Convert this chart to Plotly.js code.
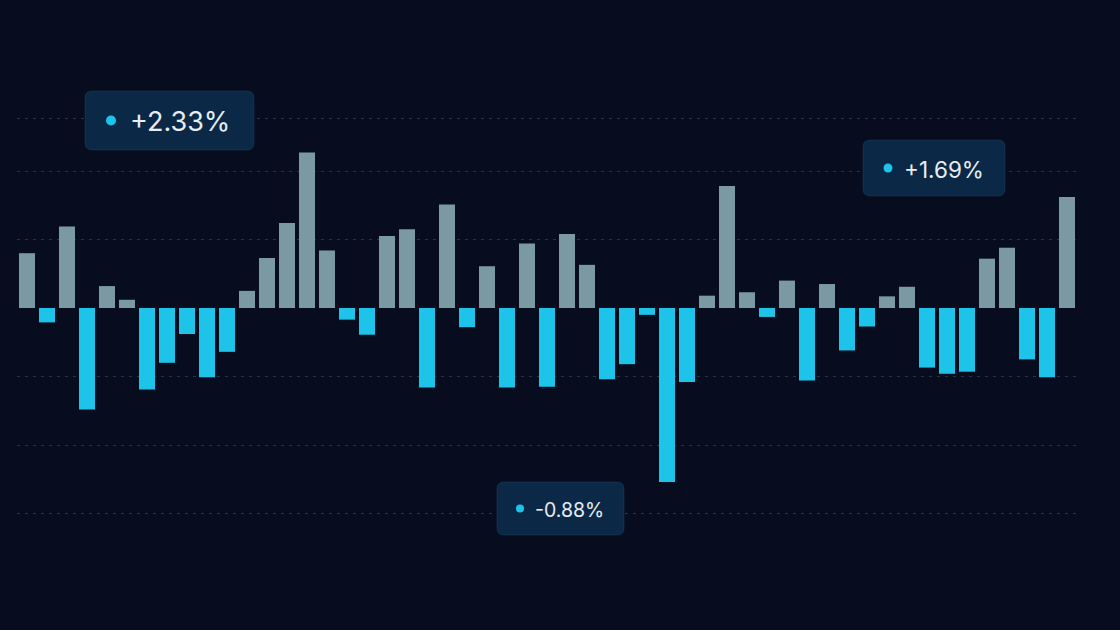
<!DOCTYPE html>
<html>
<head>
<meta charset="utf-8">
<script src="https://cdn.plot.ly/plotly-3.0.1.min.js"></script>
<style>
  html, body { margin: 0; padding: 0; background: #070c1e; }
  #chart { width: 1120px; height: 630px; }
</style>
</head>
<body>
<div id="chart"></div>
<script>
// Daily change (%) for each period, left to right
const periods = [];
for (let i = 1; i <= 53; i++) periods.push('P' + i);

const changes = [
  0.80, -0.21, 1.19, -1.48, 0.32, 0.12, -1.19, -0.80, -0.38, -1.01,
  -0.64, 0.25, 0.73, 1.24, 2.27, 0.84, -0.17, -0.39, 1.05, 1.15,
  -1.16, 1.51, -0.28, 0.61, -1.16, 0.94, -1.15, 1.08, 0.63, -1.04,
  -0.82, -0.10, -2.54, -1.08, 0.18, 1.78, 0.23, -0.13, 0.40, -1.06,
  0.35, -0.62, -0.27, 0.17, 0.31, -0.87, -0.96, -0.93, 0.72, 0.88,
  -0.75, -1.01, 1.62
];

// Callout labels
const calloutLabels = ['+2.33%', '+1.69%', '-0.88%'];

// dashed guide levels
const gridLevels = [-3, -2, -1, 1, 2, 2.77];

const upColor = '#7a99a3';
const downColor = '#1ec3ea';

const barColors = changes.map(v => v >= 0 ? upColor : downColor);

// plot area in pixels (used to place the callout boxes)
const plotLeft = 17, plotRight = 1077, plotTop = 115, plotBottom = 516;
function px(x) { return (x - plotLeft) / (plotRight - plotLeft); }
function py(y) { return (plotBottom - y) / (plotBottom - plotTop); }

// rounded box from pixel corners
function roundBox(x0, y0, x1, y1, r) {
  const p = (x, y) => px(x) + ',' + py(y);
  return 'M' + p(x0 + r, y0) + ' L' + p(x1 - r, y0) + ' Q' + p(x1, y0) + ' ' + p(x1, y0 + r) +
    ' L' + p(x1, y1 - r) + ' Q' + p(x1, y1) + ' ' + p(x1 - r, y1) +
    ' L' + p(x0 + r, y1) + ' Q' + p(x0, y1) + ' ' + p(x0, y1 - r) +
    ' L' + p(x0, y0 + r) + ' Q' + p(x0, y0) + ' ' + p(x0 + r, y0) + ' Z';
}

// box: [x0, y0, x1, y1, dotX, textX, fontSize, dotR]
const boxes = [
  [85, 91, 254, 150, 111, 128, 27, 5],
  [863, 140, 1005, 196, 888, 902, 22.5, 4.5],
  [497, 482, 624, 535, 520, 533, 19.5, 4]
];

let shapes = [];
let annotations = [];
boxes.forEach((b, i) => {
  const cy = (b[1] + b[3]) / 2;
  shapes.push({
    type: 'path', xref: 'paper', yref: 'paper',
    path: roundBox(b[0], b[1], b[2], b[3], 7),
    fillcolor: '#0b2947', line: {color: 'rgba(40,80,120,0.35)', width: 1},
    layer: 'above'
  });
  shapes.push({
    type: 'circle', xref: 'paper', yref: 'paper',
    x0: px(b[4] - b[7]), x1: px(b[4] + b[7]),
    y0: py(cy + b[7]), y1: py(cy - b[7]),
    fillcolor: downColor, line: {width: 0}, layer: 'above'
  });
  annotations.push({
    xref: 'paper', yref: 'paper', x: px(b[5]), y: py(cy + 1),
    xanchor: 'left', yanchor: 'middle', showarrow: false,
    text: calloutLabels[i],
    font: {family: 'Inter, "Noto Sans", sans-serif', size: b[6], color: '#e6edf3'}
  });
});

// 68.5 px per percent, a little padding so the outer guides stay visible
const pxPerUnit = 68.5;
const zeroPx = 308;
const yMax = (zeroPx - plotTop) / pxPerUnit;
const yMin = -(plotBottom - zeroPx) / pxPerUnit;

const data = [{
  type: 'bar',
  x: periods,
  y: changes,
  marker: {color: barColors, line: {width: 0}},
  hoverinfo: 'none'
}];

const layout = {
  width: 1120,
  height: 630,
  paper_bgcolor: '#070c1e',
  plot_bgcolor: '#070c1e',
  margin: {l: plotLeft, r: 1120 - plotRight, t: plotTop, b: 630 - plotBottom, pad: 0},
  bargap: 0.2,
  showlegend: false,
  xaxis: {
    showgrid: false, zeroline: false, showticklabels: false, ticks: '',
    fixedrange: true
  },
  yaxis: {
    range: [yMin, yMax],
    tickvals: gridLevels,
    showticklabels: false, ticks: '',
    showgrid: true, gridcolor: 'rgba(120,135,160,0.32)', griddash: '3px,5px', gridwidth: 1,
    zeroline: false, fixedrange: true
  },
  shapes: shapes,
  annotations: annotations
};

Plotly.newPlot('chart', data, layout, {displayModeBar: false, staticPlot: true});
</script>
</body>
</html>
